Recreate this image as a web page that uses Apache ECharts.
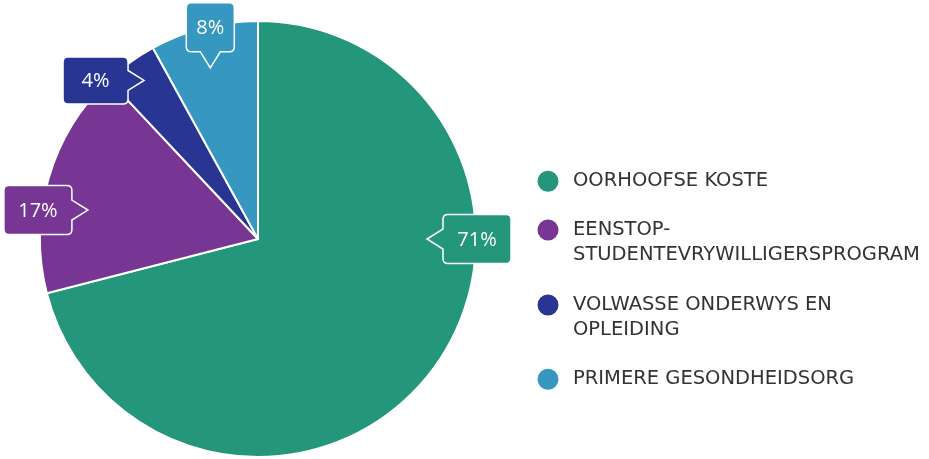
<!DOCTYPE html>
<html><head><meta charset="utf-8">
<script src="https://cdn.jsdelivr.net/npm/echarts@6/dist/echarts.min.js"></script>
<style>html,body{margin:0;padding:0;background:#fff}#c{width:929px;height:459px}</style>
</head><body><div id="c"></div>
<script>
// ---- data ----
const categories = [
  'OORHOOFSE KOSTE',
  'EENSTOP-\nSTUDENTEVRYWILLIGERSPROGRAM',
  'VOLWASSE ONDERWYS EN\nOPLEIDING',
  'PRIMERE GESONDHEIDSORG'
];
const values = [71, 17, 4, 8];
const percentLabels = ['71%', '17%', '4%', '8%'];
const colors = ['#23967b', '#773594', '#283592', '#3697c0'];

// ---- layout ----
const CENTER = [258, 239];
const RADIUS = 218;
const calloutAngle = [90, 277.5, 314.3, 347.3];   // degrees clockwise from 12 o'clock
const calloutDist = [219, 222, 227, 217];
const calloutSize = [[68, 49], [68, 49], [65, 47], [48, 49]];
const ARROW_LEN = 16, ARROW_HALF = 10, CORNER = 5;
const legendCenters = [181, 230, 305, 379];
const LINE_H = 24.5;
const ICON = 23;

function calloutPath(cx, cy, w, h, side) {
  const x0 = cx - w / 2, x1 = cx + w / 2, y0 = cy - h / 2, y1 = cy + h / 2, r = CORNER;
  let d = `M${x0 + r},${y0}`;
  if (side === 'top') d += `L${cx - ARROW_HALF},${y0}L${cx},${y0 - ARROW_LEN}L${cx + ARROW_HALF},${y0}`;
  d += `L${x1 - r},${y0}Q${x1},${y0} ${x1},${y0 + r}`;
  if (side === 'right') d += `L${x1},${cy - ARROW_HALF}L${x1 + ARROW_LEN},${cy}L${x1},${cy + ARROW_HALF}`;
  d += `L${x1},${y1 - r}Q${x1},${y1} ${x1 - r},${y1}`;
  if (side === 'bottom') d += `L${cx + ARROW_HALF},${y1}L${cx},${y1 + ARROW_LEN}L${cx - ARROW_HALF},${y1}`;
  d += `L${x0 + r},${y1}Q${x0},${y1} ${x0},${y1 - r}`;
  if (side === 'left') d += `L${x0},${cy + ARROW_HALF}L${x0 - ARROW_LEN},${cy}L${x0},${cy - ARROW_HALF}`;
  d += `L${x0},${y0 + r}Q${x0},${y0} ${x0 + r},${y0}Z`;
  return d;
}

const chart = echarts.init(document.getElementById('c'), null, { renderer: 'canvas' });

const legends = categories.map((name, i) => {
  const multi = name.indexOf('\n') >= 0;
  return {
    data: [name],
    left: 547 - ICON / 2,
    top: legendCenters[i] - (multi ? LINE_H * 1.5 : LINE_H / 2),
    padding: 0,
    icon: 'circle',
    itemWidth: 2 * (572 - 5 - 547),
    itemHeight: ICON,
    selectedMode: false,
    formatter: multi ? '\n{name}' : '{name}',
    textStyle: {
      fontFamily: 'DejaVu Sans',
      fontSize: 19.5,
      color: '#333',
      lineHeight: LINE_H
    }
  };
});

const option = {
  animation: false,
  color: colors,
  legend: legends,
  series: [
    {
      type: 'pie',
      center: CENTER,
      radius: RADIUS,
      startAngle: 90,
      clockwise: true,
      label: { show: false },
      labelLine: { show: false },
      emphasis: { disabled: true },
      itemStyle: { borderColor: '#fff', borderWidth: 2 },
      data: categories.map((n, i) => ({ name: n, value: values[i], itemStyle: { color: colors[i] } }))
    },
    {
      type: 'custom',
      coordinateSystem: 'none',
      silent: true,
      z: 5,
      data: values,
      renderItem: function (params, api) {
        const i = params.dataIndex;
        const a = calloutAngle[i] * Math.PI / 180;
        const dx = Math.sin(a), dy = -Math.cos(a);
        const cx = CENTER[0] + dx * calloutDist[i];
        const cy = CENTER[1] + dy * calloutDist[i];
        let side;
        if (Math.abs(dx) >= Math.abs(dy)) side = dx > 0 ? 'left' : 'right';
        else side = dy < 0 ? 'bottom' : 'top';
        const [w, h] = calloutSize[i];
        return {
          type: 'group',
          children: [
            {
              type: 'path',
              shape: { pathData: calloutPath(cx, cy, w, h, side) },
              style: { fill: colors[i], stroke: '#fff', lineWidth: 1.5 }
            },
            {
              type: 'text',
              style: {
                text: percentLabels[i],
                x: cx, y: cy + 1,
                align: 'center', verticalAlign: 'middle',
                fill: '#fff',
                fontFamily: 'Open Sans',
                fontSize: 20
              }
            }
          ]
        };
      }
    }
  ]
};
chart.setOption(option);
</script>
</body></html>
